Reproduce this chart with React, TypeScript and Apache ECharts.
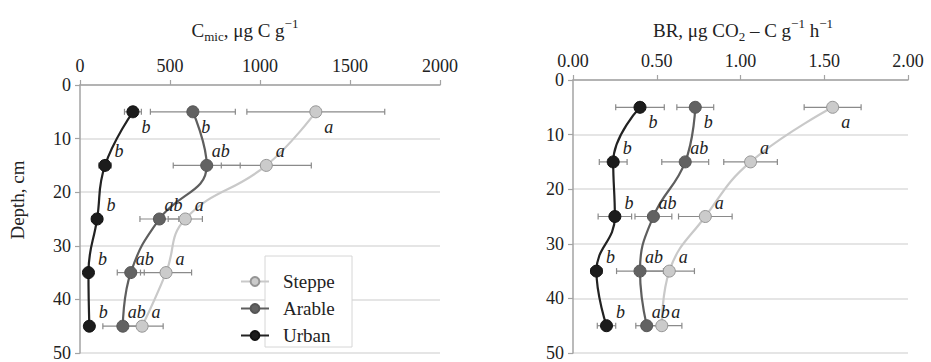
import React, { useEffect, useRef } from "react";
import * as echarts from "echarts";

// Sampling depths, cm
const depths = [5, 15, 25, 35, 45];

// Microbial biomass carbon, μg C g−1
const cmicSteppe = [1310, 1035, 585, 478, 345];
const cmicArable = [627, 704, 441, 282, 238];
const cmicUrban = [294, 139, 95, 47, 52];
const cmicSteppeErr = [383, 250, 95, 142, 117];
const cmicArableErr = [236, 186, 108, 75, 111];
const cmicUrbanErr = [47, 35, 30, 20, 25];

// Basal respiration, μg CO2–C g−1 h−1
const brSteppe = [1.55, 1.06, 0.79, 0.575, 0.53];
const brArable = [0.73, 0.67, 0.48, 0.4, 0.44];
const brUrban = [0.4, 0.24, 0.25, 0.14, 0.2];
const brSteppeErr = [0.17, 0.16, 0.16, 0.15, 0.12];
const brArableErr = [0.11, 0.14, 0.11, 0.14, 0.065];
const brUrbanErr = [0.145, 0.083, 0.1, 0.035, 0.055];

// Significance letters
const steppeLetters = ["a", "a", "a", "a", "a"];
const arableLetters = ["b", "ab", "ab", "ab", "ab"];
const urbanLetters = ["b", "b", "b", "b", "b"];

// Axis ticks
const cmicTicks = { min: 0, max: 2000, interval: 500 };
const brTicks = { min: 0, max: 2, interval: 0.5 };
const depthTicks = { min: 0, max: 50, interval: 10 };

const FONT = "Liberation Serif";

const landuse = [
  { name: "Steppe", line: "#c9c9c9", fill: "#cbcbcb", border: "#959595" },
  { name: "Arable", line: "#5e5e5e", fill: "#626262", border: "#555555" },
  { name: "Urban", line: "#222222", fill: "#1c1c1c", border: "#111111" },
];

function lineSeries(
  idx: number,
  style: (typeof landuse)[number],
  values: number[],
  letters: string[]
) {
  return {
    type: "line",
    name: style.name,
    xAxisIndex: idx,
    yAxisIndex: idx,
    smooth: 0.45,
    symbol: "circle",
    symbolSize: 12,
    z: 3,
    lineStyle: { color: style.line, width: 2.2 },
    itemStyle: { color: style.fill, borderColor: style.border, borderWidth: 1 },
    data: values.map((v, i) => ({
      value: [v, depths[i]],
      label: {
        show: true,
        formatter: letters[i],
        position: "inside",
        offset: i === 0 ? [13, 15] : [14, -14],
        fontFamily: FONT,
        fontStyle: "italic",
        fontSize: 18,
        color: "#222",
      },
    })),
  };
}

function errorSeries(idx: number, values: number[], errs: number[]) {
  return {
    type: "custom",
    xAxisIndex: idx,
    yAxisIndex: idx,
    z: 2,
    silent: true,
    encode: { x: 0, y: 1 },
    data: values.map((v, i) => [v, depths[i], errs[i]]),
    renderItem: (params: any, api: any) => {
      const x = api.value(0);
      const y = api.value(1);
      const e = api.value(2);
      const a = api.coord([x - e, y]);
      const b = api.coord([x + e, y]);
      const st = { stroke: "#8a8a8a", lineWidth: 1.2 };
      return {
        type: "group",
        children: [
          { type: "line", shape: { x1: a[0], y1: a[1], x2: b[0], y2: b[1] }, style: st },
          { type: "line", shape: { x1: a[0], y1: a[1] - 3, x2: a[0], y2: a[1] + 3 }, style: st },
          { type: "line", shape: { x1: b[0], y1: b[1] - 3, x2: b[0], y2: b[1] + 3 }, style: st },
        ],
      };
    },
  };
}

const axisLine = { show: true, lineStyle: { color: "#a3a3a3", width: 1.5 } };
const axisTick = { show: true, length: 5, lineStyle: { color: "#a3a3a3", width: 1.2 } };
const tickLabel = { fontFamily: FONT, fontSize: 18, color: "#222" };

function xAxis(idx: number, ticks: typeof cmicTicks, digits: number) {
  return {
    type: "value",
    gridIndex: idx,
    position: "top",
    ...ticks,
    axisLine,
    axisTick,
    splitLine: { show: false },
    axisLabel: { ...tickLabel, margin: 10, formatter: (v: number) => v.toFixed(digits) },
  };
}

function yAxis(idx: number) {
  return {
    type: "value",
    gridIndex: idx,
    inverse: true,
    ...depthTicks,
    axisLine,
    axisTick,
    splitLine: { show: true, lineStyle: { color: "#dcdcdc", width: 1.5 } },
    axisLabel: { ...tickLabel, margin: 9 },
  };
}

const titleRich = {
  a: { fontFamily: FONT, fontSize: 19, fontWeight: "normal", color: "#222", verticalAlign: "middle", lineHeight: 26 },
  s: { fontFamily: FONT, fontSize: 13, fontWeight: "normal", color: "#222", verticalAlign: "bottom", lineHeight: 14 },
  p: { fontFamily: FONT, fontSize: 13, fontWeight: "normal", color: "#222", verticalAlign: "top", lineHeight: 14 },
};

export default function App() {
  const ref = useRef<HTMLDivElement>(null);

  useEffect(() => {
    if (!ref.current) return;
    const chart = echarts.init(ref.current, null, { renderer: "svg" });
    chart.setOption({
      animation: false,
      backgroundColor: "#ffffff",
      textStyle: { fontFamily: FONT },
      title: [
        {
          text: "{a|C}{s|mic}{a|, μg C g}{p|−1}",
          left: 240,
          top: 12,
          textAlign: "center",
          textStyle: { fontWeight: "normal", rich: titleRich },
        },
        {
          text: "{a|BR, μg CO}{s|2}{a| – C g}{p|−1}{a| h}{p|−1}",
          left: 738,
          top: 12,
          textAlign: "center",
          textStyle: { fontWeight: "normal", rich: titleRich },
        },
      ],
      legend: {
        data: landuse.map((l) => l.name),
        orient: "vertical",
        left: 235,
        top: 267,
        itemWidth: 28,
        itemHeight: 11,
        itemGap: 8,
        z: 10,
        textStyle: { fontFamily: FONT, fontSize: 19, color: "#222", padding: [0, 0, 0, 9] },
      },
      grid: [
        { left: 80, top: 85, width: 360, height: 269 },
        { left: 573, top: 80, width: 335, height: 275 },
      ],
      xAxis: [xAxis(0, cmicTicks, 0), xAxis(1, brTicks, 2)],
      yAxis: [yAxis(0), yAxis(1)],
      graphic: [
        {
          type: "rect",
          z: 6,
          shape: { x: 265, y: 256, width: 87, height: 91 },
          style: { fill: "#ffffff", stroke: "#d6d6d6", lineWidth: 1 },
        },
        {
          type: "text",
          x: 17,
          y: 200,
          rotation: Math.PI / 2,
          style: {
            text: "Depth, cm",
            fontFamily: FONT,
            fontSize: 19,
            fill: "#222",
            align: "center",
            verticalAlign: "middle",
          },
        },
      ],
      series: [
        errorSeries(0, cmicSteppe, cmicSteppeErr),
        errorSeries(0, cmicArable, cmicArableErr),
        errorSeries(0, cmicUrban, cmicUrbanErr),
        lineSeries(0, landuse[0], cmicSteppe, steppeLetters),
        lineSeries(0, landuse[1], cmicArable, arableLetters),
        lineSeries(0, landuse[2], cmicUrban, urbanLetters),
        errorSeries(1, brSteppe, brSteppeErr),
        errorSeries(1, brArable, brArableErr),
        errorSeries(1, brUrban, brUrbanErr),
        lineSeries(1, landuse[0], brSteppe, steppeLetters),
        lineSeries(1, landuse[1], brArable, arableLetters),
        lineSeries(1, landuse[2], brUrban, urbanLetters),
      ],
    });
    return () => chart.dispose();
  }, []);

  return (
    <div
      ref={ref}
      style={{ position: "fixed", left: 0, top: 0, width: 931, height: 362 }}
    />
  );
}
